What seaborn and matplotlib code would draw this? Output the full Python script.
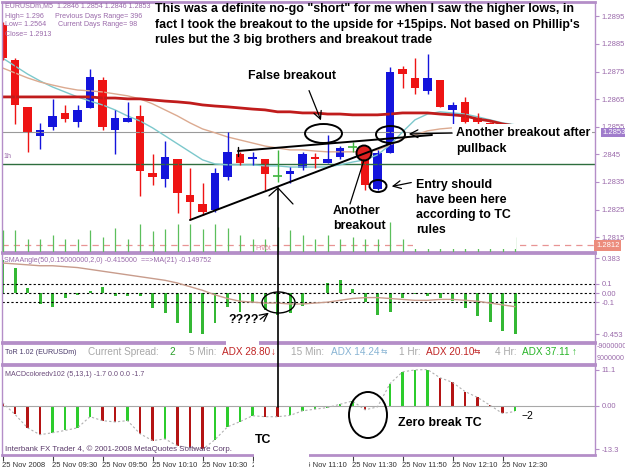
import numpy as np
import pandas as pd
import seaborn as sns
import matplotlib.pyplot as plt
from matplotlib.patches import Ellipse, Circle, Rectangle

# EURUSDm M5 candles, 25 Nov 2008 09:10 - 12:35
opens = [1.28919, 1.28792, 1.28622, 1.28517, 1.28549, 1.28600, 1.28567, 1.28618, 1.28720, 1.28538,
         1.28567, 1.28589, 1.28383, 1.28361, 1.28433, 1.28303, 1.28270, 1.28249, 1.28368, 1.28451,
         1.28433, 1.28433, 1.28372, 1.28379, 1.28401, 1.28441, 1.28419, 1.28441, 1.28477, 1.28459,
         1.28325, 1.28455, 1.28759, 1.28727, 1.28680, 1.28720, 1.28611, 1.28640, 1.28582, 1.28564,
         1.28553, 1.28460]
highs = [1.28930, 1.28799, 1.28622, 1.28564, 1.28651, 1.28629, 1.28629, 1.28759, 1.28730, 1.28611,
         1.28640, 1.28629, 1.28451, 1.28499, 1.28433, 1.28401, 1.28346, 1.28401, 1.28531, 1.28459,
         1.28459, 1.28433, 1.28466, 1.28404, 1.28459, 1.28455, 1.28520, 1.28480, 1.28495, 1.28477,
         1.28466, 1.28767, 1.28770, 1.28799, 1.28814, 1.28720, 1.28640, 1.28658, 1.28600, 1.28567,
         1.28560, 1.28540]
lows = [1.28792, 1.28560, 1.28459, 1.28470, 1.28538, 1.28567, 1.28549, 1.28618, 1.28538, 1.28451,
        1.28567, 1.28299, 1.28339, 1.28332, 1.28238, 1.28212, 1.28230, 1.28241, 1.28357, 1.28412,
        1.28412, 1.28321, 1.28350, 1.28346, 1.28394, 1.28401, 1.28419, 1.28433, 1.28459, 1.28321,
        1.28321, 1.28455, 1.28691, 1.28669, 1.28669, 1.28622, 1.28538, 1.28564, 1.28557, 1.28549,
        1.28455, 1.28460]
closes = [1.28799, 1.28629, 1.28528, 1.28538, 1.28589, 1.28578, 1.28611, 1.28730, 1.28549, 1.28582,
          1.28582, 1.28390, 1.28368, 1.28441, 1.28310, 1.28278, 1.28241, 1.28383, 1.28459, 1.28419,
          1.28441, 1.28379, 1.28372, 1.28390, 1.28451, 1.28433, 1.28433, 1.28473, 1.28477, 1.28339,
          1.28455, 1.28749, 1.28741, 1.28691, 1.28727, 1.28622, 1.28629, 1.28567, 1.28567, 1.28553,
          1.28462, 1.28530]

# moving averages on the price chart
ma_slow = [1.28658, 1.28658, 1.28658, 1.28658, 1.28658, 1.28658, 1.28658, 1.28658, 1.28654, 1.28654,
           1.28651, 1.28651, 1.28647, 1.28643, 1.28640, 1.28636, 1.28629, 1.28625, 1.28622, 1.28618,
           1.28614, 1.28611, 1.28604, 1.28604, 1.28600, 1.28600, 1.28596, 1.28596, 1.28593, 1.28593,
           1.28593, 1.28596, 1.28600, 1.28600, 1.28600, 1.28596, 1.28593, 1.28589, 1.28578, 1.28571,
           1.28560, 1.28553]
ma_mid = [1.28763, 1.28745, 1.28727, 1.28712, 1.28701, 1.28691, 1.28683, 1.28680, 1.28676, 1.28669,
          1.28662, 1.28651, 1.28633, 1.28611, 1.28589, 1.28564, 1.28542, 1.28528, 1.28513, 1.28502,
          1.28491, 1.28480, 1.28473, 1.28466, 1.28466, 1.28462, 1.28459, 1.28459, 1.28459, 1.28459,
          1.28466, 1.28484, 1.28506, 1.28520, 1.28535, 1.28542, 1.28546, 1.28549, 1.28553, 1.28549,
          1.28549, 1.28546]
ma_fast = [1.28799, 1.28770, 1.28741, 1.28716, 1.28694, 1.28676, 1.28658, 1.28643, 1.28629, 1.28611,
           1.28589, 1.28571, 1.28546, 1.28517, 1.28488, 1.28459, 1.28430, 1.28415, 1.28412, 1.28412,
           1.28412, 1.28408, 1.28408, 1.28404, 1.28404, 1.28404, 1.28404, 1.28412, 1.28422, 1.28430,
           1.28448, 1.28484, 1.28531, 1.28575, 1.28596, 1.28604, 1.28600, 1.28596, 1.28586, 1.28575,
           1.28564, 1.28557]
tick_ind = [22, 22, 13, 13, 17, 13, 13, 22, 15, 24, 13, 28, 21, 23, 28, 28, 23, 28, 24, 17,
            13, 13, 25, 22, 17, 13, 17, 13, 15, 13, 13, 30, 13, 15, 15, 15, 15, 15, 15, 15,
            15, 15]
bid = 1.2853
h1_level = 1.28414
pivot = 1.2812
price_ticks = [1.2815, 1.2825, 1.2835, 1.2845, 1.2855, 1.2865, 1.2875, 1.2885, 1.2895]
price_labels = ['1.2815', '1.2825', '1.2835', '.2845', '1.2855', '1.2865', '1.2875', '1.2885', '1.2895']

# SMAAngle(50,0.15,2,0) histogram and its MA(21)
sma_angle = [0.36, 0.28, 0.05, -0.12, -0.15, -0.05, -0.02, 0.02, 0.065, -0.03,
             -0.03, -0.03, -0.16, -0.22, -0.33, -0.44, -0.45, -0.33, -0.15, -0.21,
             -0.10, -0.19, -0.24, -0.22, -0.14, 0.005, 0.11, 0.14, 0.04, -0.10,
             -0.24, -0.21, -0.05, -0.01, -0.03, -0.05, -0.09, -0.16, -0.25, -0.32,
             -0.415, -0.453]
sma_ma = [0.33, 0.32, 0.31, 0.30, 0.30, 0.29, 0.28, 0.26, 0.24, 0.22,
          0.20, 0.18, 0.16, 0.14, 0.11, 0.07, 0.03, -0.02, -0.06, -0.09,
          -0.10, -0.11, -0.11, -0.12, -0.12, -0.11, -0.10, -0.08, -0.06, -0.05,
          -0.05, -0.06, -0.07, -0.08, -0.08, -0.07, -0.07, -0.08, -0.09, -0.11,
          -0.13, -0.15]
sma_ticks = [-0.453, -0.1, 0.0, 0.1, 0.383]
sma_labels = ['-0.453', '-0.1', '0.00', '0.1', '0.383']

# MACDcoloredv102 (5,13,1)
macd = [1.0, -2.6, -6.7, -8.8, -8.2, -7.5, -6.7, -3.3, -4.5, -4.9,
        -4.5, -8.5, -10.6, -10.1, -12.2, -12.8, -13.3, -10.3, -6.4, -4.8,
        -3.0, -3.3, -3.3, -2.9, -1.5, -1.0, -0.5, 0.5, 1.5, -1.2,
        -0.3, 6.8, 10.4, 11.0, 11.1, 8.6, 7.2, 4.4, 2.6, 0.2,
        -2.3, -1.7]
macd_ticks = [-13.3, 0.0, 11.1]
macd_labels = ['-13.3', '0.00', '11.1']

time_ticks = [0, 4, 8, 12, 16, 20, 24, 28, 32, 36, 40]
time_labels = ['25 Nov 2008', '25 Nov 09:30', '25 Nov 09:50', '25 Nov 10:10', '25 Nov 10:30',
               '25 Nov 10:50', '25 Nov 11:10', '25 Nov 11:30', '25 Nov 11:50', '25 Nov 12:10',
               '25 Nov 12:30']

sns.set_theme(style="white")
plt.rcParams['font.family'] = ['Liberation Sans', 'DejaVu Sans']

W, H = 625, 469
BORDER = '#b48ec8'
LABEL = '#9a6aaa'
SMALL = 5.5
TINY = 5.1

fig = plt.figure(figsize=(6.25, 4.69), dpi=100)


def box(x0, y0, x1, y1):
    return [x0 / W, 1 - y1 / H, (x1 - x0) / W, (y1 - y0) / H]


def frame(a):
    for s in ['top', 'bottom']:
        a.spines[s].set_color(BORDER)
        a.spines[s].set_linewidth(2)
    for s in ['left', 'right']:
        a.spines[s].set_color(BORDER)
        a.spines[s].set_linewidth(1)
    a.set_xlim(-0.04, 47.4)
    a.yaxis.tick_right()
    a.tick_params(axis='y', length=3, width=0.8, color=BORDER, labelsize=SMALL,
                  labelcolor=LABEL, pad=1.5)
    a.set_xticks([])


df = pd.DataFrame({'bar': np.arange(len(opens)), 'open': opens, 'high': highs,
                   'low': lows, 'close': closes})
df['color'] = np.where(df.close > df.open, '#1414dc',
                       np.where(df.close < df.open, '#ee1414', '#3cb43c'))
doji = df.close == df.open

# ---- price panel
ax = fig.add_axes(box(2, 2, 595, 252))
axv = ax.twinx()
axv.set_ylim(0, 250)
axv.vlines(df.bar, 0, tick_ind, color='#5cbf5c', lw=0.9)
axv.set_yticks([])
for s in axv.spines.values():
    s.set_visible(False)
frame(ax)
ax.set_ylim(1.28096, 1.29002)
ax.axhline(pivot, color='#e89494', lw=0.9, ls=(0, (5, 4)))
ax.axhline(bid, color='#9a9a9a', lw=0.8)
ax.axhline(h1_level, color='#2e6e3e', lw=1)
sns.lineplot(x=df.bar, y=ma_fast, ax=ax, color='#7cc8cc', lw=1)
sns.lineplot(x=df.bar, y=ma_mid, ax=ax, color='#dcaa90', lw=1)
sns.lineplot(x=df.bar, y=ma_slow, ax=ax, color='#c01c1c', lw=2)
ax.vlines(df.bar, df.low, df.high, colors=df.color, lw=1)
body = df[~doji]
ax.bar(body.bar, (body.close - body.open).abs(), bottom=np.minimum(body.open, body.close),
       width=0.66, color=body.color, lw=0)
ax.hlines(df.close[doji], df.bar[doji] - 0.33, df.bar[doji] + 0.33, colors='#3cb43c', lw=1.2)
ax.set_yticks(price_ticks)
ax.set_yticklabels(price_labels)
ax.yaxis.tick_right()
ax.set_xlabel('')
ax.set_ylabel('')
ytr = ax.get_yaxis_transform()
ax.text(1.012, bid, '1.2853', transform=ytr, fontsize=SMALL, color='white', va='center',
        bbox=dict(boxstyle='square,pad=0.15', fc='#a07ccc', ec='none'), clip_on=False)
ax.text(1.002, pivot, '1.2812', transform=ytr, fontsize=SMALL, color='white', va='center',
        bbox=dict(boxstyle='square,pad=0.25', fc='#ec8c7c', ec='none'), clip_on=False)

# ---- SMAAngle panel
ax2 = fig.add_axes(box(2, 253, 595, 342))
frame(ax2)
ax2.set_ylim(-0.538, 0.44)
for lev in [0.1, 0.0, -0.1]:
    ax2.axhline(lev, color='black', lw=0.8, ls=(0, (2, 2)))
ax2.bar(df.bar, sma_angle, width=0.24, color='#34b834', lw=0)
sns.lineplot(x=df.bar, y=sma_ma, ax=ax2, color='#c89c8c', lw=1)
ax2.set_yticks(sma_ticks)
ax2.set_yticklabels(sma_labels)
ax2.set_xlabel('')
ax2.set_ylabel('')

# ---- ToR panel
ax3 = fig.add_axes(box(2, 343, 595, 364))
frame(ax3)
ax3.set_yticks([])

# ---- MACD panel
ax4 = fig.add_axes(box(2, 365, 595, 455))
frame(ax4)
ax4.set_ylim(-15.0, 12.5)
ax4.axhline(0, color='#a8a8a8', lw=0.8)
mcol = ['#b41414'] + ['#2ccc2c' if macd[i] > macd[i - 1] else '#b41414' for i in range(1, len(macd))]
ax4.bar(df.bar, macd, width=0.17, color=mcol, lw=0)
sns.lineplot(x=df.bar, y=macd, ax=ax4, color='#b0b0b0', lw=0.8, ls=(0, (2, 2)))
ax4.set_yticks(macd_ticks)
ax4.set_yticklabels(macd_labels)
ax4.set_xticks(time_ticks)
ax4.set_xticklabels(time_labels, ha='left')
ax4.tick_params(axis='x', bottom=True, length=4, width=0.8, color='#404040', labelsize=SMALL,
                labelcolor='#303030', pad=1)
ax4.set_xlabel('')
ax4.set_ylabel('')

# ---- overlay in pixel units for texts and hand drawn marks
ov = fig.add_axes([0, 0, 1, 1], zorder=10)
ov.set_xlim(0, W)
ov.set_ylim(H, 0)
ov.axis('off')
ov.patch.set_alpha(0)

hdr = dict(color=LABEL, fontsize=TINY, va='center')
ov.text(5, 6, 'EURUSDm,M5  1.2846 1.2854 1.2846 1.2853', **hdr)
ov.text(5, 16, 'High= 1.296', **hdr)
ov.text(55, 16, 'Previous Days Range= 396', **hdr)
ov.text(5, 25, 'Low= 1.2564', **hdr)
ov.text(58, 25, 'Current Days Range= 98', **hdr)
ov.text(5, 34, 'Close= 1.2913', **hdr)
ov.text(3, 157, '1h', **hdr)
ov.text(255, 248, 'Pivot', color='#e08aa0', fontsize=TINY, va='center')
ov.text(4, 260, 'SMAAngle(50,0.15000000,2,0) -0.415000  ==>MA(21) -0.149752', **hdr)
ov.text(5, 375, 'MACDcoloredv102 (5,13,1) -1.7 0.0 0.0 -1.7', color='#6a4a7a', fontsize=TINY, va='center')
ov.text(5, 449, 'Interbank FX Trader 4, \u00a9 2001-2008 MetaQuotes Software Corp.',
        color='#5a3a6a', fontsize=5.7, va='center')

# ToR line
tor = [(5, 'ToR 1.02 (EURUSDm)', '#4a3a6a', TINY), (88, 'Current Spread:', '#a8a8a8', 7.2),
       (169, '2', '#2ca02c', 7.2), (189, '5 Min:', '#a8a8a8', 7.2), (222, 'ADX 28.80', '#c02424', 7.2),
       (271, '\u2193', '#d02020', 7.0), (291, '15 Min:', '#a8a8a8', 7.2), (331, 'ADX 14.24', '#88b4d4', 7.2),
       (381, '\u21c6', '#88b4d4', 5.5), (399, '1 Hr:', '#a8a8a8', 7.2), (426, 'ADX 20.10', '#c02424', 7.2),
       (474, '\u21c6', '#c02424', 5.5), (495, '4 Hr:', '#a8a8a8', 7.2), (522, 'ADX 37.11', '#28b428', 7.2),
       (572, '\u2191', '#28b428', 7.0)]
for x, s, c, fs in tor:
    ov.text(x, 352, s, color=c, fontsize=fs, va='center')
ov.text(597, 347, '-9000000', color=LABEL, fontsize=TINY, va='center')
ov.text(597, 358, '9000000', color=LABEL, fontsize=TINY, va='center')

note = dict(color='black', fontsize=8.9, fontweight='bold', va='center')
ov.text(155, 9, 'This was a definite no-go "short" for me when I saw the higher lows, in', **note)
ov.text(155, 25, "fact I took the breakout to the upside for +15pips. Not based on Phillip's", **note)
ov.text(155, 40, 'rules but the 3 big brothers and breakout trade', **note)
ov.text(248, 76, 'False breakout', **note)

ov.add_patch(Rectangle((452, 124), 140, 34, fc='white', ec='none'))
ov.text(456, 133, 'Another breakout after', **note)
ov.text(456, 149, 'pullback', **note)
ov.add_patch(Rectangle((413, 176), 103, 73, fc='white', ec='none'))
ov.text(416, 185, 'Entry should', **note)
ov.text(416, 200, 'have been here', **note)
ov.text(416, 215, 'according to TC', **note)
ov.text(416, 230, 'rules', **note)
ov.text(333, 211, 'Another', **note)
ov.text(333, 226, 'breakout', **note)
ov.add_patch(Rectangle((226, 313), 33, 33, fc='white', ec='none'))
ov.text(228, 320, '????', **note)
ov.add_patch(Rectangle((254, 430), 55, 39, fc='white', ec='none'))
ov.text(255, 440, 'TC', **note)
ov.text(398, 423, 'Zero break TC', **note)
ov.text(521, 416, '\u22122', color='black', fontsize=7.5, va='center')

# trend lines and pointers
lk = dict(color='black', lw=1.4)
ov.plot([190, 392], [220, 143], **lk)
ov.plot([238, 432], [151, 135], **lk)
ov.plot([238, 238], [147, 156], color='black', lw=1)
ov.add_patch(Circle((364, 153), 7.5, fc='#e02020', ec='black', lw=1.4))
ov.add_patch(Ellipse((323.5, 133.5), 37, 19, fill=False, ec='black', lw=1.4))
ov.add_patch(Ellipse((390.5, 134.5), 29, 17, fill=False, ec='black', lw=1.4))
ov.add_patch(Ellipse((378, 186), 17, 12, fill=False, ec='black', lw=1.4))
ov.add_patch(Ellipse((278.5, 302.5), 33, 21, fill=False, ec='black', lw=1))
ov.add_patch(Ellipse((368, 415), 38, 46, fill=False, ec='black', lw=1.4))
arw = dict(arrowstyle='->', color='black', lw=0.9, mutation_scale=14)
ov.annotate('', xy=(322, 123), xytext=(308, 88), arrowprops=arw)
ov.annotate('', xy=(406, 134), xytext=(455, 133), arrowprops=arw)
ov.annotate('', xy=(389, 187), xytext=(414, 182), arrowprops=arw)
ov.annotate('', xy=(271, 311), xytext=(258, 321), arrowprops=arw)
ov.plot([364, 350], [160, 204], color='black', lw=0.9)
ov.plot([278, 278], [188, 407], color='black', lw=1.2)
ov.plot([269, 278, 293], [196, 188, 204], color='black', lw=0.9)

fig.savefig('out.png', dpi=100)
